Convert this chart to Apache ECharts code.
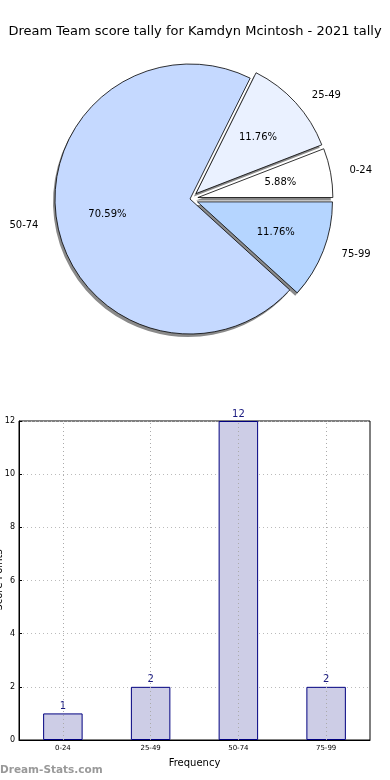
<!DOCTYPE html>
<html>
<head>
<meta charset="utf-8">
<script src="https://cdn.jsdelivr.net/npm/echarts@6/dist/echarts.min.js"></script>
<style>
html,body{margin:0;padding:0;background:#fff;}
#c{width:390px;height:780px;}
</style>
</head>
<body>
<div id="c"></div>
<script>
const titleText = 'Dream Team score tally for Kamdyn Mcintosh - 2021 tally';
const categories = ['0-24', '25-49', '50-74', '75-99'];
const counts = [1, 2, 12, 2];
const pieColors = ['#ffffff', '#eaf1ff', '#c5d9ff', '#b5d5ff'];
const exploded = [true, true, false, true];
const xAxisTitle = 'Frequency';
const yAxisTitle = 'Score Points';
const watermark = 'Dream-Stats.com';

const total = counts.reduce((a, b) => a + b, 0);
const FONT = 'DejaVu Sans';
const R = 135;
const CX = 190, CY = 199;

const pieData = categories.map((c, i) => ({
  name: c, value: counts[i], selected: exploded[i],
  itemStyle: { color: pieColors[i] }
}));
const plainData = categories.map((c, i) => ({
  name: c, value: counts[i], selected: exploded[i]
}));

const pieBase = {
  type: 'pie', startAngle: 0, clockwise: false,
  selectedMode: 'multiple', selectedOffset: 8,
  avoidLabelOverlap: false, silent: true,
  emphasis: { disabled: true }
};

const chart = echarts.init(document.getElementById('c'), null, { renderer: 'canvas' });
chart.setOption({
  animation: false,
  backgroundColor: '#fff',
  title: {
    text: titleText, left: 'center', top: 20,
    textStyle: { fontFamily: FONT, fontSize: 13, fontWeight: 'normal', color: '#000' }
  },
  graphic: [
    {
      type: 'text', left: 0, top: 765,
      style: { text: watermark, fontFamily: FONT, fontSize: 10.5, fontWeight: 'bold', fill: '#999' }
    },
    {
      type: 'text', x: -1, y: 580, rotation: Math.PI / 2,
      style: { text: yAxisTitle, fontFamily: FONT, fontSize: 10, fill: '#000', align: 'center', verticalAlign: 'middle' }
    }
  ],
  grid: {
    left: 19, right: 20, top: 421, bottom: 40, show: true,
    outerBoundsMode: 'none', containLabel: false,
    borderColor: '#000', borderWidth: 1, backgroundColor: 'transparent'
  },
  xAxis: {
    type: 'category', data: categories,
    name: xAxisTitle, nameLocation: 'middle', nameGap: 18,
    nameTextStyle: { fontFamily: FONT, fontSize: 10, color: '#000' },
    axisLine: { lineStyle: { color: '#000' } },
    axisTick: { show: false },
    axisLabel: { fontFamily: FONT, fontSize: 7, color: '#000', margin: 5 },
    splitLine: { show: false }
  },
  yAxis: {
    type: 'value', min: 0, max: 12, interval: 2,
    axisLine: { show: true, lineStyle: { color: '#000' } },
    axisTick: { show: true, inside: true, length: 3, lineStyle: { color: '#000' } },
    axisLabel: { fontFamily: FONT, fontSize: 8, color: '#000', margin: 4 },
    splitLine: { show: true, lineStyle: { color: '#bbb', type: [1, 3], width: 1 } }
  },
  series: [
    Object.assign({}, pieBase, {
      radius: [0, R], center: [CX - 2, CY + 3], z: 1,
      data: plainData,
      itemStyle: { color: '#8a8a8a', borderWidth: 0 },
      label: { show: false }, labelLine: { show: false }
    }),
    Object.assign({}, pieBase, {
      radius: [0, R], center: [CX, CY], z: 2,
      data: pieData,
      itemStyle: { borderColor: '#000', borderWidth: 0.8 },
      label: {
        show: true, position: 'outside', formatter: '{b}',
        fontFamily: FONT, fontSize: 10, color: '#000', distanceToLabelLine: 8, alignTo: 'none'
      },
      labelLine: { show: false, length: 11, length2: 0 }
    }),
    Object.assign({}, pieBase, {
      radius: [0, R * 1.2], center: [CX, CY], z: 5,
      data: plainData,
      itemStyle: { color: 'rgba(0,0,0,0)', borderWidth: 0 },
      label: {
        show: true, position: 'inside',
        formatter: p => (p.value / total * 100).toFixed(2) + '%',
        fontFamily: FONT, fontSize: 10, color: '#000'
      },
      labelLine: { show: false }
    }),
    {
      type: 'bar', data: counts, barWidth: '45%',
      itemStyle: { color: '#cdcde6', borderColor: '#000080', borderWidth: 1 },
      label: { show: true, position: 'top', distance: 2, fontFamily: FONT, fontSize: 10, color: '#1a1a80' },
      markLine: {
        silent: true, symbol: 'none', label: { show: false },
        lineStyle: { color: '#aaa', type: [1, 3], width: 1 },
        data: categories.map(c => ({ xAxis: c }))
      }
    }
  ]
});
</script>
</body>
</html>
